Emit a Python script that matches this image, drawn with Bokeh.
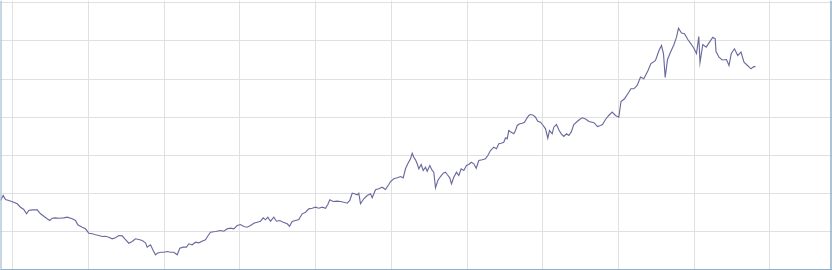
from bokeh.plotting import figure
from bokeh.models import Range1d, Grid, FixedTicker, Span, ColumnDataSource
from bokeh.embed import file_html
from bokeh.resources import INLINE

# sample position (day index) and value
t = [0, 2.7, 5, 8.3, 13.3, 16.7, 20, 23.3, 26, 28.3, 31.7, 36.7, 40, 43.3, 46.7, 49.3,
     51.7, 55, 58.3, 63.3, 66.7, 71.7, 75, 77.3, 81.7, 85, 88.3, 91.7, 95, 98.3, 101.7,
     105, 108.3, 111.7, 115, 118.3, 121.7, 125, 128.3, 131.7, 135, 138.3, 141.7, 145,
     146.7, 150, 152.7, 155, 156.7, 160, 163.3, 166.7, 170, 173.3, 176.7, 179.3, 182.7,
     186, 188.3, 191.7, 195, 198.3, 202, 205, 207, 210, 215, 220, 223.3, 226.7, 230,
     233.3, 236.7, 240, 243.3, 246.7, 250, 253.3, 256.7, 260, 262.7, 265, 267.3, 270,
     273.3, 276, 279.3, 282.7, 286.7, 289, 291.7, 295, 298.3, 301.7, 305, 308.3, 311.7,
     315, 318.3, 321.7, 325, 327.3, 329.3, 332.7, 336.7, 340, 343.3, 346.7, 349.3, 351.7,
     354, 356.7, 358.3, 360, 363.3, 366.7, 370, 371.7, 375, 378.3, 381.7, 385, 388.3,
     390, 393.3, 396.7, 400, 402.7, 405, 407.3, 410, 411.7, 413.3, 415, 416.7, 418.3,
     420.7, 422.7, 425, 426.7, 429.3, 431.7, 433.3, 435, 437.3, 440, 442.7, 445, 446.7,
     449.3, 451, 453.3, 456, 458.3, 460.7, 463.3, 466, 468.3, 470.7, 473.3, 475.7, 478.3,
     481.7, 485, 487.3, 490, 493.3, 496, 498.3, 500.7, 503.3, 505, 506.7, 508.3, 510.7,
     513.3, 515, 516.7, 519.3, 521.7, 524, 526, 528.3, 530, 532.7, 535, 537.3, 540,
     542.7, 545, 547.3, 549, 551.7, 553.3, 556, 558.3, 560.7, 563.3, 566, 568.3, 570.7,
     573.3, 576.7, 580, 582, 585, 588.5, 593.5, 597, 600, 602, 605, 608.3, 611.7, 615,
     618.3, 620.5, 624, 628.3, 630.3, 633.3, 636.7, 640, 643.3, 647.3, 650.3, 655, 658.5,
     661, 663, 664.7, 667, 670, 673.5, 676, 678, 681, 684, 687.3, 690.5, 693.5, 696,
     698.3, 699.5, 702.3, 705.7, 709, 712.3, 714.7, 715.5, 718.5, 721.7, 726, 728.5,
     730.8, 734, 737.2, 740.5, 743.5, 747, 750.5, 752, 753.7, 755]

values = [18.17, 19.48, 18.43, 18.17, 17.72, 17.31, 16.41, 15.81, 14.68, 15.55, 15.73,
          15.73, 14.68, 14.05, 13.37, 12.93, 13.53, 13.63, 13.53, 13.63, 13.80, 13.37,
          12.93, 11.80, 11.17, 10.75, 9.60, 9.44, 9.18, 8.99, 8.73, 8.81, 8.55, 8.13,
          8.39, 8.99, 8.90, 7.94, 6.97, 7.42, 8.13, 7.94, 7.68, 7.08, 5.93, 6.56, 5.06,
          3.93, 4.35, 4.61, 4.61, 4.80, 4.61, 4.61, 3.93, 5.66, 5.93, 5.93, 6.82, 6.56,
          7.24, 7.08, 7.55, 7.87, 8.73, 9.86, 10.04, 10.30, 10.12, 10.75, 10.91, 10.75,
          11.62, 11.88, 11.35, 11.17, 11.62, 12.22, 12.48, 12.74, 13.63, 13.11, 13.79,
          12.74, 13.79, 12.74, 12.93, 12.48, 12.06, 11.43, 12.66, 12.93, 13.19, 14.68,
          15.10, 15.99, 16.15, 16.41, 16.15, 16.41, 16.15, 17.12, 18.35, 17.91, 17.99,
          17.91, 17.72, 17.46, 18.17, 20.08, 19.93, 19.67, 20.08, 17.31, 18.62, 19.48,
          19.93, 18.88, 20.98, 21.24, 21.66, 21.05, 22.37, 23.15, 23.86, 24.12, 24.46,
          24.12, 26.48, 27.79, 29.10, 30.57, 29.52, 28.84, 27.79, 26.48, 27.61, 26.04,
          26.90, 25.85, 27.35, 26.04, 25.59, 21.50, 23.41, 24.46, 25.33, 25.59, 24.99,
          24.12, 22.55, 24.28, 25.59, 24.73, 26.48, 26.04, 27.35, 27.61, 28.21, 27.79,
          26.64, 28.66, 28.84, 29.10, 29.97, 31.28, 32.15, 31.73, 33.04, 33.19, 33.46,
          34.61, 34.35, 36.52, 36.08, 35.66, 36.52, 37.84, 38.28, 38.44, 38.70, 39.59,
          40.46, 40.72, 40.54, 40.01, 38.96, 38.70, 37.84, 36.97, 34.51, 36.52, 35.66,
          37.39, 38.10, 36.71, 35.66, 34.95, 35.66, 35.21, 36.08, 38.10, 38.88, 39.59,
          39.85, 39.54, 38.88, 38.57, 37.57, 37.84, 38.10, 39.41, 40.46, 41.37, 40.46,
          40.01, 44.13, 44.84, 46.57, 47.46, 47.46, 48.32, 50.55, 50.08, 52.13, 54.01,
          54.88, 57.50, 58.81, 56.64, 50.42, 55.14, 57.06, 59.07, 60.99, 63.32, 62.09,
          61.88, 60.39, 59.26, 58.03, 56.71, 61.17, 54.35, 59.07, 58.37, 59.68, 60.99,
          60.57, 57.24, 55.74, 55.01, 55.14, 53.57, 56.71, 57.95, 56.19, 57.06, 54.43,
          53.57, 52.70, 53.04, 53.31, 53.17]

x_ticks = [12.3, 88, 163.7, 239.4, 315.1, 390.8, 466.5, 542.2, 617.9, 693.6, 769.3]
y_ticks = [0, 10, 20, 30, 40, 50, 60, 70]

src = ColumnDataSource(data=dict(t=t, v=values))

p = figure(width=832, height=270, output_backend="svg", toolbar_location=None,
           x_axis_type=None, y_axis_type=None, min_border=0,
           x_range=Range1d(0, 832), y_range=Range1d(-0.18, 70.61))
p.outline_line_color = None
p.background_fill_color = "white"
p.border_fill_color = "white"

grid_color = "#e0e0e0"
p.add_layout(Grid(dimension=0, ticker=FixedTicker(ticks=x_ticks),
                  grid_line_color=grid_color, grid_line_width=1))
p.add_layout(Grid(dimension=1, ticker=FixedTicker(ticks=y_ticks),
                  grid_line_color=grid_color, grid_line_width=1))

p.line("t", "v", source=src, line_color="#6a6aa0", line_width=1.15,
       line_join="miter")

frame_color = "#8fb0c8"
p.add_layout(Span(location=p.x_range.start, dimension="height",
                  line_color=frame_color, line_width=2))
p.add_layout(Span(location=830.5, dimension="height",
                  line_color=frame_color, line_width=1.5))
p.add_layout(Span(location=0, dimension="width",
                  line_color=frame_color, line_width=1.5))

open("out.html", "w").write(file_html(p, INLINE))
